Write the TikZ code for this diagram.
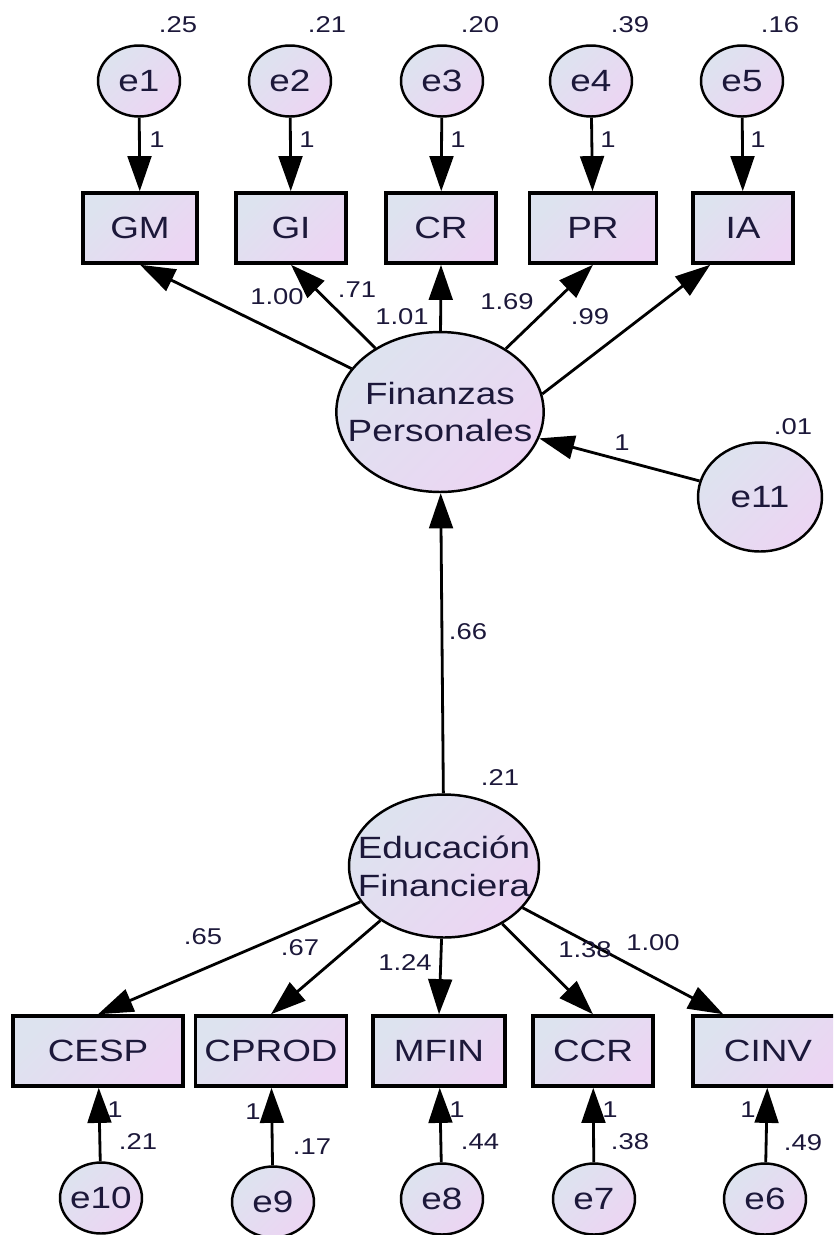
\documentclass[tikz,border=0pt]{standalone}
\usepackage{fontspec}
\setmainfont{Liberation Sans}[FakeStretch=1.2]
\usetikzlibrary{arrows.meta}
\definecolor{semA}{RGB}{221,227,239}
\definecolor{semB}{RGB}{236,213,243}
\definecolor{semtxt}{RGB}{28,24,58}
\tikzset{
  obs/.style   ={draw=black, line width=2pt, left color=semA, right color=semB, shading angle=45,
                 minimum height=1.4cm, inner sep=0pt, text=semtxt, font=\fontsize{17.5}{21.6}\selectfont},
  err/.style   ={ellipse, draw=black, line width=1.4pt, left color=semA, right color=semB, shading angle=45,
                 minimum width=1.64cm, minimum height=1.42cm, inner sep=0pt, inner xsep=-0.05cm, text=semtxt,
                 font=\fontsize{17.5}{21.6}\selectfont},
  latent/.style={err, align=center, inner xsep=-0.38cm},
  pth/.style   ={-{Triangle[length=20pt,width=13.5pt]}, line width=1.6pt},
  num/.style   ={inner sep=0pt, text=semtxt, font=\fontsize{13}{15}\selectfont},
}
\usetikzlibrary{shapes.geometric}
\begin{document}
\begin{tikzpicture}[x=0.02cm, y=-0.02cm]
  \useasboundingbox (0,0) rectangle (833,1235);
  \clip (0,0) rectangle (833,1235);
  % Finanzas Personales block
  \node[err] (e1) at (139,81) {e1};
  \node[err] (e2) at (290,81) {e2};
  \node[err] (e3) at (442,81) {e3};
  \node[err] (e4) at (591,81) {e4};
  \node[err] (e5) at (742,81) {e5};
  \node[obs, minimum width=2.28cm] (GM) at (140,228) {GM};
  \node[obs, minimum width=2.2cm]  (GI) at (291,228) {GI};
  \node[obs, minimum width=2.2cm]  (CR) at (441,228) {CR};
  \node[obs, minimum width=2.54cm] (PR) at (593,228) {PR};
  \node[obs, minimum width=2.0cm]  (IA) at (743,228) {IA};
  \node[latent, minimum width=4.14cm, minimum height=3.2cm] (FP) at (440,412) {Finanzas\\Personales};
  \node[err, minimum width=2.48cm, minimum height=2.18cm] (e11) at (760,497) {e11};
  \foreach \e/\v in {e1/GM, e2/GI, e3/CR, e4/PR, e5/IA}{ \draw[pth] (\e) -- (\v); }
  \draw[pth] (FP) -- (GM.south);
  \draw[pth] (FP) -- (GI.south);
  \draw[pth] (FP) -- (CR.south);
  \draw[pth] (FP) -- (PR.south);
  \draw[pth] (FP.10) -- ([xshift=0.38cm]IA.south west);
  \draw[pth] (e11) -- (FP);
  % Educacion Financiera block
  \node[latent, minimum width=3.8cm, minimum height=2.86cm] (EF) at (444,866) {Educación\\Financiera};
  \node[obs, minimum width=3.4cm]  (CESP)  at (98,1051)  {CESP};
  \node[obs, minimum width=3.02cm] (CPROD) at (271,1051) {CPROD};
  \node[obs, minimum width=2.64cm] (MFIN)  at (439,1051) {MFIN};
  \node[obs, minimum width=2.4cm]  (CCR)   at (593,1051) {CCR};
  \node[obs, minimum width=3.0cm]  (CINV)  at (768,1051) {CINV};
  \node[err] (e10) at (101,1198) {e10};
  \node[err] (e9)  at (273,1202) {e9};
  \node[err] (e8)  at (442,1199) {e8};
  \node[err] (e7)  at (594,1199) {e7};
  \node[err] (e6)  at (765,1199) {e6};
  \foreach \e/\v in {e10/CESP, e9/CPROD, e8/MFIN, e7/CCR, e6/CINV}{ \draw[pth] (\e) -- (\v); }
  \draw[pth] (EF) -- (CESP.north);
  \draw[pth] (EF) -- (CPROD.north);
  \draw[pth] (EF) -- (MFIN.north);
  \draw[pth] (EF) -- (CCR.north);
  \draw[pth] (EF) -- ([xshift=0.64cm]CINV.north west);
  \draw[pth] (EF) -- (FP);
  % estimates
  \node[num] (v1) at (178,25) {.25};
  \node[num] (v2) at (327,25) {.21};
  \node[num] (v3) at (480,25) {.20};
  \node[num] (v4) at (630,25) {.39};
  \node[num] (v5) at (780,25) {.16};
  \foreach \x/\i in {157/1, 307/2, 458/3, 608/4, 758/5}{ \node[num] (f\i) at (\x,140) {1}; }
  \node[num] (wGM) at (277,297) {1.00};
  \node[num] (wGI) at (357,290) {.71};
  \node[num] (wCR) at (402,317) {1.01};
  \node[num] (wPR) at (507,302) {1.69};
  \node[num] (wIA) at (590,317) {.99};
  \node[num] (v11) at (793,427) {.01};
  \node[num] (f11) at (622,443) {1};
  \node[num] (wFP) at (468,632) {.66};
  \node[num] (vFP) at (500,778) {.21};
  \node[num] (wCESP)  at (203,937) {.65};
  \node[num] (wCPROD) at (300,948) {.67};
  \node[num] (wMFIN)  at (405,963) {1.24};
  \node[num] (wCCR)   at (585,950) {1.38};
  \node[num] (wCINV)  at (653,943) {1.00};
  \node[num] (f10) at (115,1110) {1};
  \node[num] (f9)  at (253,1112) {1};
  \node[num] (f8)  at (457,1110) {1};
  \node[num] (f7)  at (610,1110) {1};
  \node[num] (f6)  at (748,1110) {1};
  \node[num] (v10) at (138,1142) {.21};
  \node[num] (v9)  at (312,1147) {.17};
  \node[num] (v8)  at (480,1142) {.44};
  \node[num] (v7)  at (630,1142) {.38};
  \node[num] (v6)  at (803,1143) {.49};
\end{tikzpicture}
\end{document}
